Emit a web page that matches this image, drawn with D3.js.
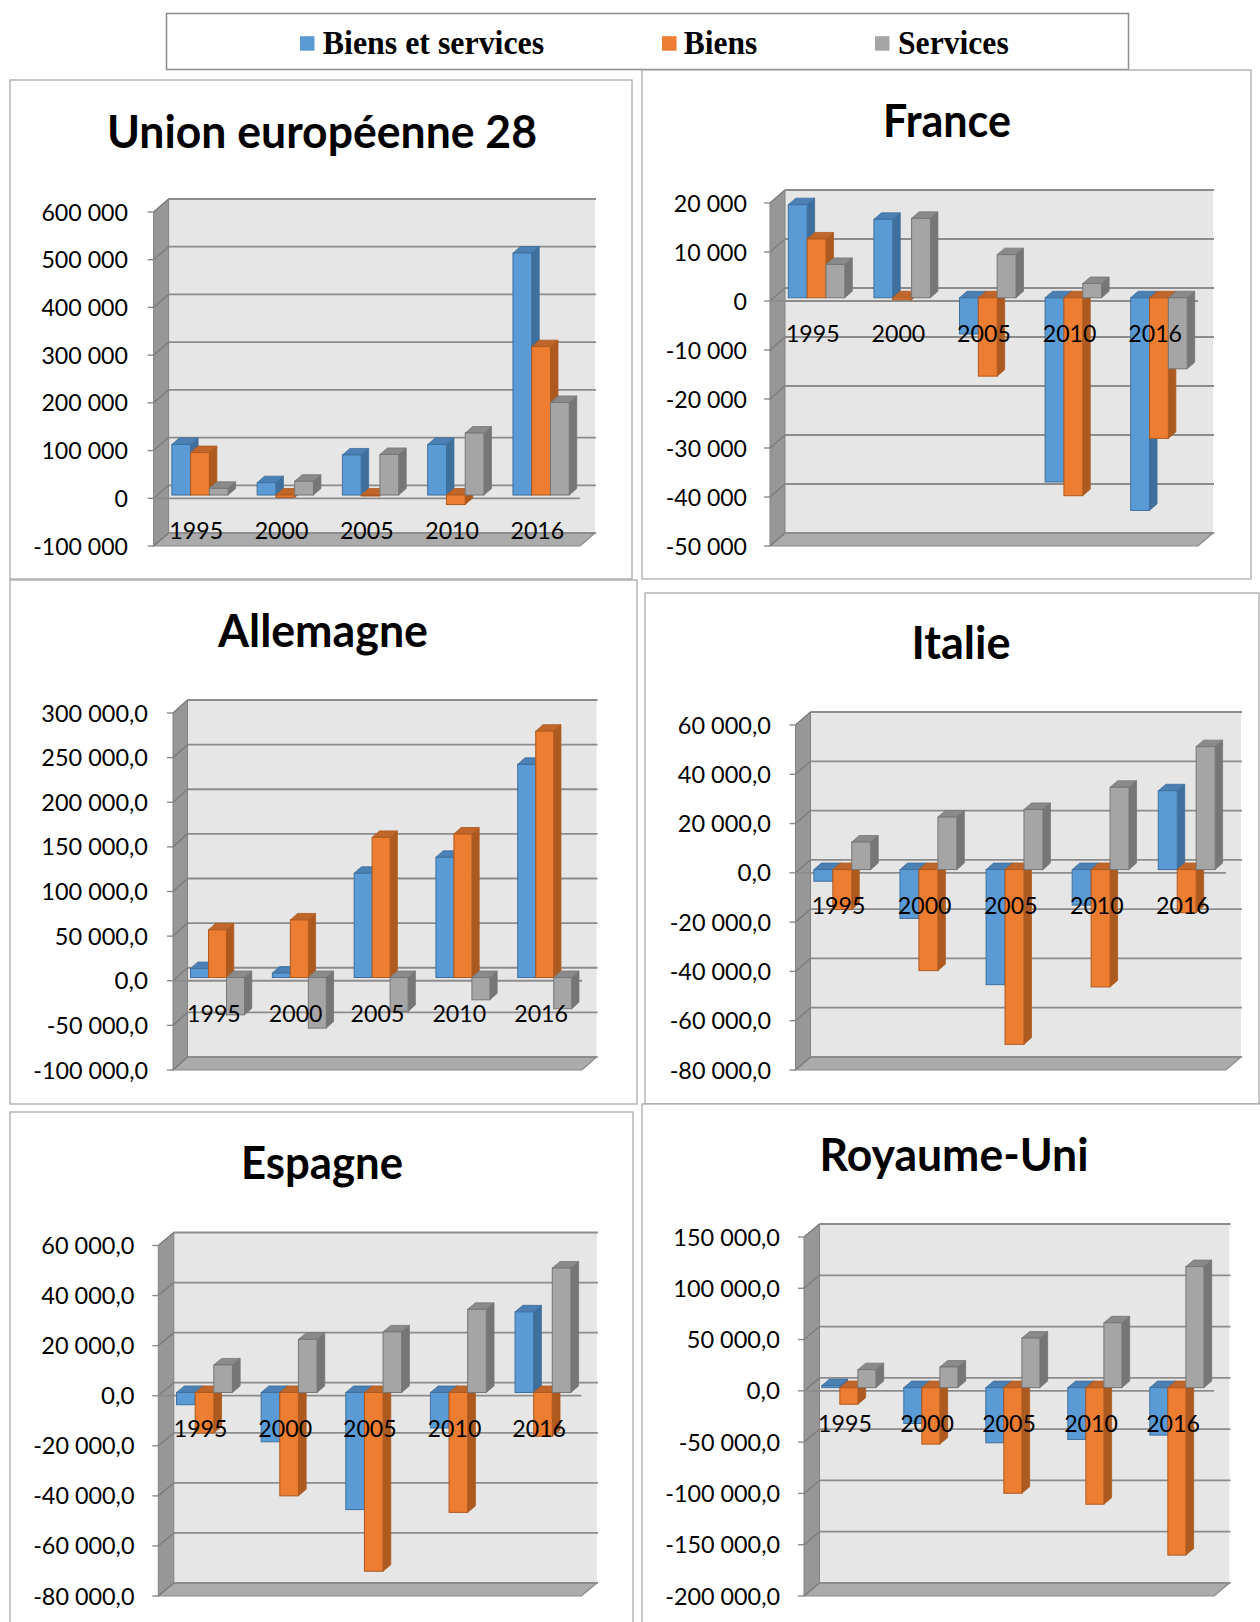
<!DOCTYPE html>
<html>
<head>
<meta charset="utf-8">
<script src="https://cdn.jsdelivr.net/npm/d3@7"></script>
<style>
  body { margin: 0; background: #ffffff; }
  svg { display: block; }
</style>
</head>
<body>
<svg id="chart" width="1260" height="1622"></svg>
<script>
// ---- Data: trade balances (millions), by year and by component ----
const years = ["1995", "2000", "2005", "2010", "2016"];
const seriesNames = ["Biens et services", "Biens", "Services"];

const ueBiensServices = [106000, 26000, 84000, 106000, 507000];
const ueBiens = [89000, -5000, -2000, -20000, 311000];
const ueServices = [14000, 29000, 85000, 130000, 194000];
const ueTicks = [600000, 500000, 400000, 300000, 200000, 100000, 0, -100000];

const franceBiensServices = [19000, 16000, -7400, -37600, -43400];
const franceBiens = [12000, -400, -16000, -40400, -28700];
const franceServices = [6800, 16200, 8800, 2900, -14500];
const franceTicks = [20000, 10000, 0, -10000, -20000, -30000, -40000, -50000];

const allemagneBiensServices = [10000, 5000, 116800, 134700, 238800];
const allemagneBiens = [53400, 64500, 157000, 160800, 276000];
const allemagneServices = [-41800, -56700, -38000, -25000, -35000];
const allemagneTicks = [300000, 250000, 200000, 150000, 100000, 50000, 0, -50000, -100000];

const italieBiensServices = [-4700, -19800, -46700, -14400, 32000];
const italieBiens = [-16200, -41000, -70900, -47600, -17500];
const italieServices = [11200, 21300, 24400, 33400, 49900];
const italieTicks = [60000, 40000, 20000, 0, -20000, -40000, -60000, -80000];

const espagneBiensServices = [-4900, -19700, -46800, -14200, 32200];
const espagneBiens = [-16200, -41300, -71400, -47900, -17500];
const espagneServices = [11000, 21200, 24200, 33200, 49700];
const espagneTicks = [60000, 40000, 20000, 0, -20000, -40000, -60000, -80000];

const ruBiensServices = [2000, -35000, -53800, -50500, -46300];
const ruBiens = [-16200, -55100, -103000, -113700, -163300];
const ruServices = [17500, 20100, 48300, 63200, 118000];
const ruTicks = [150000, 100000, 50000, 0, -50000, -100000, -150000, -200000];

// ---- Styles ----
const frontColors = ["#5b9bd5", "#ed7d31", "#a5a5a5"];
const sideColors = ["#3f6f9c", "#ad5a20", "#767676"];
const topColors = ["#4a80b4", "#c0662a", "#8a8a8a"];
const sansFont = "Lato, 'Open Sans', 'Noto Sans', sans-serif";
const serifFont = "'Liberation Serif', 'DejaVu Serif', serif";

const fr = d3.formatLocale({ decimal: ",", thousands: " ", grouping: [3], currency: ["", " €"], minus: "-" });
const fmtInt = fr.format(",.0f");
const fmtDec = fr.format(",.1f");

// advance widths (em) of the office sans face used for the axis text
function axisTextWidth(s, size) {
  let w = 0;
  for (const c of s) {
    if (c >= "0" && c <= "9") w += 0.507;
    else if (c === " ") w += 0.226;
    else if (c === ",") w += 0.25;
    else if (c === "-") w += 0.306;
    else w += 0.5;
  }
  return w * size;
}

const svg = d3.select("#chart");

// ---- Legend ----
const legend = svg.append("g");
legend.append("rect")
  .attr("x", 166.5).attr("y", 13.5).attr("width", 962).attr("height", 56)
  .attr("fill", "#fff").attr("stroke", "#8c8c8c").attr("stroke-width", 1.5);
const legendSwatchX = [300, 662, 875];
const legendTextX = [322.8, 683.8, 898];
const legendTextW = [221.4, 73.5, 110.7];
seriesNames.forEach((name, i) => {
  legend.append("rect")
    .attr("x", legendSwatchX[i]).attr("y", 36.2).attr("width", 14.5).attr("height", 14.5)
    .attr("fill", frontColors[i]);
  legend.append("text")
    .attr("x", legendTextX[i]).attr("y", 53.8)
    .attr("font-family", serifFont).attr("font-weight", 700).attr("font-size", 33)
    .attr("textLength", legendTextW[i]).attr("lengthAdjust", "spacingAndGlyphs")
    .attr("fill", "#000").text(name);
});

// ---- One 3D column panel ----
function drawPanel(p) {
  const g = svg.append("g");
  g.append("rect")
    .attr("x", p.box[0]).attr("y", p.box[1]).attr("width", p.box[2]).attr("height", p.box[3])
    .attr("fill", "#fff").attr("stroke", "#a3a3a3").attr("stroke-width", 1.2);

  g.append("text")
    .attr("x", p.titleX).attr("y", p.titleBase).attr("text-anchor", "middle")
    .attr("font-family", sansFont).attr("font-weight", 700).attr("font-size", 45)
    .attr("textLength", p.titleWidth).attr("lengthAdjust", "spacingAndGlyphs")
    .attr("fill", "#000").text(p.title);

  const vMin = d3.min(p.ticks), vMax = d3.max(p.ticks);
  const y = d3.scaleLinear().domain([vMin, vMax]).range([p.yBottom, p.yTop]);
  const x = d3.scaleBand().domain(years).range([p.frontLeft, p.frontRight])
    .paddingInner(0.34).paddingOuter(0.17);
  const xs = d3.scaleBand().domain(seriesNames).range([0, x.bandwidth()]);
  const DX = p.DX, DY = p.DY;
  const line = d3.line();

  // back wall
  g.append("rect")
    .attr("x", p.frontLeft + DX).attr("y", y(vMax) + DY)
    .attr("width", p.frontRight - p.frontLeft).attr("height", y(vMin) - y(vMax))
    .attr("fill", "#e6e6e6");

  // side wall
  g.append("path")
    .attr("d", line([[p.frontLeft, y(vMax)], [p.frontLeft + DX, y(vMax) + DY],
                     [p.frontLeft + DX, y(vMin) + DY], [p.frontLeft, y(vMin)]]) + "Z")
    .attr("fill", "#979797").attr("stroke", "#828282").attr("stroke-width", 1);

  // floor
  g.append("path")
    .attr("d", line([[p.frontLeft, y(vMin)], [p.frontLeft + DX, y(vMin) + DY],
                     [p.frontRight + DX, y(vMin) + DY], [p.frontRight, y(vMin)]]) + "Z")
    .attr("fill", "#ababab").attr("stroke", "#8a8a8a").attr("stroke-width", 1.2);

  // gridlines on back wall and side wall, with outer tick marks
  p.ticks.forEach(v => {
    g.append("line")
      .attr("x1", p.frontLeft + DX).attr("x2", p.frontRight + DX + 1)
      .attr("y1", y(v) + DY).attr("y2", y(v) + DY)
      .attr("stroke", "#8c8c8c").attr("stroke-width", 1.8);
    g.append("line")
      .attr("x1", p.frontLeft).attr("y1", y(v))
      .attr("x2", p.frontLeft + DX).attr("y2", y(v) + DY)
      .attr("stroke", "#7c7c7c").attr("stroke-width", 1.4);
    g.append("line")
      .attr("x1", p.frontLeft - 6).attr("x2", p.frontLeft)
      .attr("y1", y(v)).attr("y2", y(v))
      .attr("stroke", "#8c8c8c").attr("stroke-width", 1.4);
  });

  // horizontal axis line at zero
  g.append("line")
    .attr("x1", p.frontLeft).attr("x2", p.frontRight)
    .attr("y1", y(0)).attr("y2", y(0))
    .attr("stroke", "#8c8c8c").attr("stroke-width", 1.8);

  // columns
  const t0 = 0.25, depth = 0.5;
  const dx = depth * DX, dy = depth * DY;
  years.forEach((yr, i) => {
    seriesNames.forEach((s, k) => {
      const v = p.values[k][i];
      const w = xs.bandwidth();
      const xf = x(yr) + xs(s) + t0 * DX;
      const yT = y(Math.max(v, 0)) + t0 * DY;
      const yB = y(Math.min(v, 0)) + t0 * DY;
      g.append("path")
        .attr("d", line([[xf + w, yT], [xf + w + dx, yT + dy], [xf + w + dx, yB + dy], [xf + w, yB]]) + "Z")
        .attr("fill", sideColors[k]).attr("stroke", sideColors[k]).attr("stroke-width", 0.8);
      g.append("path")
        .attr("d", line([[xf, yT], [xf + dx, yT + dy], [xf + w + dx, yT + dy], [xf + w, yT]]) + "Z")
        .attr("fill", topColors[k]).attr("stroke", sideColors[k]).attr("stroke-width", 0.8);
      g.append("rect")
        .attr("x", xf).attr("y", yT).attr("width", w).attr("height", Math.max(yB - yT, 0.01))
        .attr("fill", frontColors[k]).attr("stroke", sideColors[k]).attr("stroke-width", 1);
    });
  });

  // value axis labels
  p.ticks.forEach(v => {
    const label = p.fmt(v);
    g.append("text")
      .attr("x", p.labelRight).attr("y", y(v) + 8.5).attr("text-anchor", "end")
      .attr("font-family", sansFont).attr("font-size", 23)
      .attr("textLength", axisTextWidth(label, 26.5)).attr("lengthAdjust", "spacingAndGlyphs")
      .attr("fill", "#000").text(label);
  });

  // category labels
  years.forEach(yr => {
    g.append("text")
      .attr("x", x(yr) + x.bandwidth() / 2).attr("y", y(0) + 41).attr("text-anchor", "middle")
      .attr("font-family", sansFont).attr("font-size", 23)
      .attr("textLength", axisTextWidth(yr, 26.5)).attr("lengthAdjust", "spacingAndGlyphs")
      .attr("fill", "#000").text(yr);
  });
}

const panels = [
  { title: "Union européenne 28", box: [10, 80, 622, 499], titleX: 322, titleBase: 148, titleWidth: 430,
    labelRight: 128, frontLeft: 153.6, frontRight: 580, yTop: 212, yBottom: 546, DX: 15, DY: -13,
    ticks: ueTicks, fmt: fmtInt, values: [ueBiensServices, ueBiens, ueServices] },
  { title: "France", box: [642, 70, 609, 509], titleX: 947, titleBase: 137, titleWidth: 128,
    labelRight: 747, frontLeft: 770, frontRight: 1198, yTop: 203, yBottom: 546, DX: 15, DY: -13,
    ticks: franceTicks, fmt: fmtInt, values: [franceBiensServices, franceBiens, franceServices] },
  { title: "Allemagne", box: [10, 580, 627, 524], titleX: 323, titleBase: 647, titleWidth: 210,
    labelRight: 148, frontLeft: 173, frontRight: 582, yTop: 713, yBottom: 1070, DX: 14.5, DY: -13,
    ticks: allemagneTicks, fmt: fmtDec, values: [allemagneBiensServices, allemagneBiens, allemagneServices] },
  { title: "Italie", box: [645, 593, 614, 511], titleX: 961, titleBase: 659, titleWidth: 99,
    labelRight: 771, frontLeft: 795.5, frontRight: 1226, yTop: 725, yBottom: 1070, DX: 15, DY: -13,
    ticks: italieTicks, fmt: fmtDec, values: [italieBiensServices, italieBiens, italieServices] },
  { title: "Espagne", box: [10, 1112, 623, 520], titleX: 322, titleBase: 1179, titleWidth: 162,
    labelRight: 134.5, frontLeft: 158.3, frontRight: 581.4, yTop: 1245.5, yBottom: 1596, DX: 15.5, DY: -13,
    ticks: espagneTicks, fmt: fmtDec, values: [espagneBiensServices, espagneBiens, espagneServices] },
  { title: "Royaume-Uni", box: [642, 1104, 625, 530], titleX: 954, titleBase: 1171, titleWidth: 269,
    labelRight: 780, frontLeft: 804, frontRight: 1214, yTop: 1237, yBottom: 1596, DX: 15.5, DY: -13,
    ticks: ruTicks, fmt: fmtDec, values: [ruBiensServices, ruBiens, ruServices] }
];

panels.forEach(drawPanel);
</script>
</body>
</html>
